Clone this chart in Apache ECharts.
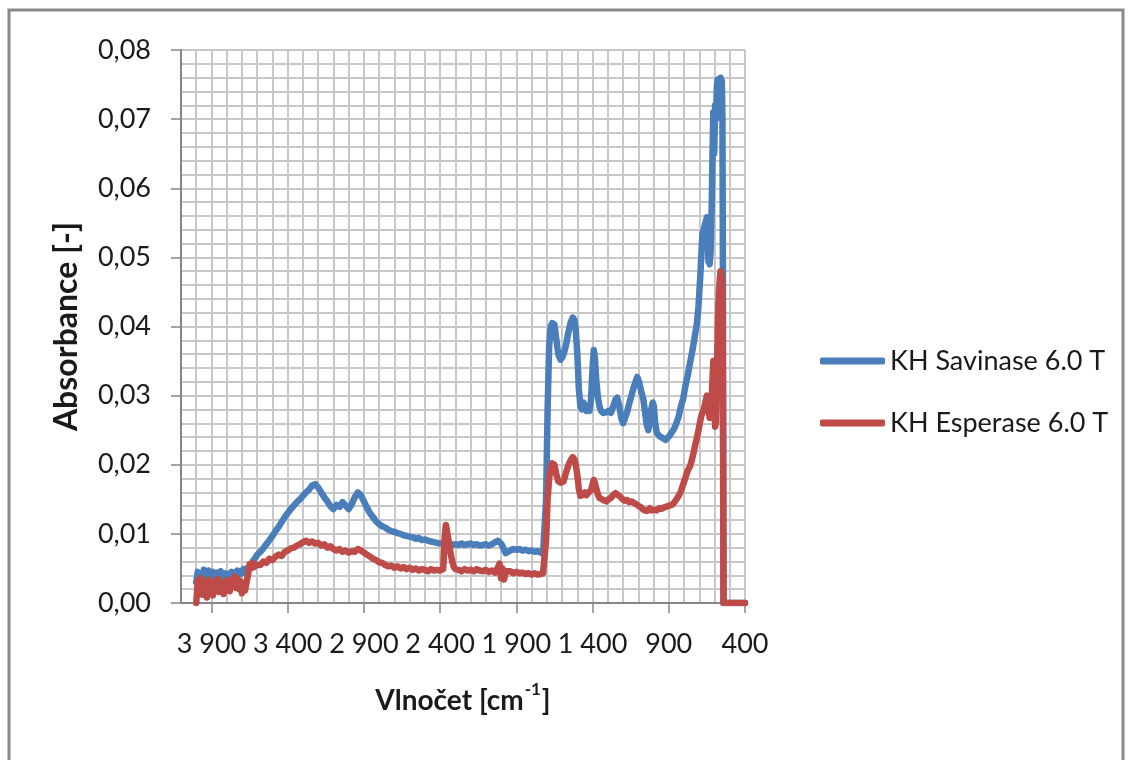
<!DOCTYPE html>
<html>
<head>
<meta charset="utf-8">
<title>FTIR spektra</title>
<script src="https://cdn.jsdelivr.net/npm/echarts@6/dist/echarts.min.js"></script>
<style>
  html, body { margin: 0; padding: 0; background: #ffffff; }
  #chart { width: 1132px; height: 760px; }
</style>
</head>
<body>
<div id="chart"></div>
<script>
// Wavenumber grid shared by both spectra [cm-1], from 4000 down to 400
const wavenumber = [
  4000,3990,3980,3970,3960,3950,3940,3930,3920,3910,
  3900,3890,3880,3870,3860,3850,3840,3830,3820,3810,
  3800,3790,3780,3770,3760,3750,3740,3730,3720,3710,
  3700,3690,3680,3670,3660,3650,3640,3630,3620,3610,
  3600,
  3580,3560,3540,3520,3500,3480,3460,3440,3420,3400,
  3380,3360,3340,3320,3300,3280,3260,3240,3220,3200,
  3180,3160,3140,3120,3100,3080,3060,3040,3020,3000,
  2980,2960,2940,2920,2900,2880,2860,2840,2820,2800,
  2780,2760,2740,2720,2700,2680,2660,2640,2620,2600,
  2580,2560,2540,2520,2500,2480,2460,2440,2420,2400,
  2380,2370,2362,2352,2340,2330,2320,2310,2300,2280,
  2260,2240,2220,2200,2180,2160,2140,2120,2100,2080,
  2060,2040,2020,2010,2000,1990,1980,1970,1960,1940,
  1920,1900,1880,1860,1840,1820,1800,1780,1760,1740,
  1725,
  1715,1705,1695,1685,1675,1665,1650,1640,1625,1610,
  1600,1590,1575,1560,1545,1530,1520,1510,1500,1490,
  1480,1470,1460,1450,1440,1430,1420,1410,1400,1392,
  1385,1375,1365,1355,1345,1330,1310,1295,1280,1265,
  1250,1238,1225,1212,1200,1190,1175,1160,1145,1130,
  1115,1107,1095,1080,1067,1055,1045,1034,1025,1015,
  1005,998,990,980,965,950,935,920,909,895,
  880,865,850,835,820,805,790,775,760,745,
  730,715,705,692,685,679,670,660,650,645,
  640,632,625,618,614,608,602,596,590,585,
  580,575,570,565,560,556,552,548,545,541,
  530,500,450,400
];

// Absorbance, KH Savinase 6.0 T
const savinase = [
  0.0030,0.0045,0.0038,0.0042,0.0033,0.0048,0.0040,0.0036,0.0047,0.0039,
  0.0034,0.0045,0.0041,0.0037,0.0044,0.0035,0.0046,0.0040,0.0034,0.0043,
  0.0039,0.0031,0.0042,0.0045,0.0038,0.0044,0.0040,0.0047,0.0041,0.0046,
  0.0043,0.0049,0.0045,0.0050,0.0048,0.0052,0.0055,0.0060,0.0063,0.0066,
  0.0070,
  0.0074,0.0079,0.0085,0.0091,0.0097,0.0104,0.0110,0.0117,0.0124,0.0130,
  0.0136,0.0141,0.0146,0.0150,0.0155,0.0160,0.0164,0.0170,0.0172,0.0167,
  0.0160,0.0153,0.0147,0.0140,0.0136,0.0142,0.0139,0.0146,0.0141,0.0136,
  0.0143,0.0153,0.0160,0.0156,0.0147,0.0138,0.0130,0.0124,0.0118,0.0114,
  0.0111,0.0109,0.0106,0.0104,0.0103,0.0101,0.0100,0.0098,0.0097,0.0096,
  0.0095,0.0093,0.0094,0.0091,0.0092,0.0090,0.0089,0.0088,0.0087,0.0086,
  0.0087,0.0086,0.0088,0.0087,0.0085,0.0086,0.0084,0.0086,0.0085,0.0084,
  0.0086,0.0084,0.0085,0.0086,0.0084,0.0085,0.0083,0.0084,0.0085,0.0083,
  0.0085,0.0088,0.0090,0.0092,0.0086,0.0082,0.0077,0.0072,0.0070,0.0076,
  0.0078,0.0077,0.0078,0.0076,0.0077,0.0075,0.0076,0.0074,0.0075,0.0073,
  0.0071,
  0.0071,0.0150,0.0280,0.0370,0.0400,0.0405,0.0403,0.0385,0.0360,0.0352,
  0.0355,0.0360,0.0372,0.0390,0.0405,0.0413,0.0410,0.0395,0.0360,0.0310,
  0.0285,0.0280,0.0290,0.0284,0.0278,0.0285,0.0278,0.0295,0.0340,0.0366,
  0.0355,0.0320,0.0298,0.0285,0.0278,0.0275,0.0276,0.0278,0.0275,0.0284,
  0.0294,0.0297,0.0285,0.0268,0.0260,0.0262,0.0275,0.0288,0.0300,0.0312,
  0.0322,0.0327,0.0320,0.0305,0.0295,0.0275,0.0258,0.0250,0.0262,0.0280,
  0.0290,0.0285,0.0262,0.0247,0.0242,0.0240,0.0238,0.0236,0.0237,0.0242,
  0.0247,0.0252,0.0260,0.0270,0.0285,0.0296,0.0315,0.0330,0.0348,0.0365,
  0.0385,0.0405,0.0430,0.0478,0.0510,0.0535,0.0540,0.0550,0.0558,0.0530,
  0.0495,0.0490,0.0510,0.0580,0.0637,0.0710,0.0650,0.0720,0.0700,0.0745,
  0.0757,0.0740,0.0758,0.0750,0.0760,0.0745,0.0755,0.0700,0.0480,0.0000,
  0.0000,0.0000,0.0000,0.0000
];

// Absorbance, KH Esperase 6.0 T
const esperase = [
  0.0000,0.0032,0.0015,0.0036,0.0012,0.0030,0.0022,0.0008,0.0034,0.0018,
  0.0027,0.0011,0.0031,0.0020,0.0035,0.0016,0.0029,0.0024,0.0013,0.0033,
  0.0021,0.0030,0.0017,0.0034,0.0026,0.0038,0.0022,0.0036,0.0020,0.0032,
  0.0014,0.0028,0.0018,0.0030,0.0041,0.0056,0.0050,0.0058,0.0052,0.0055,
  0.0053,
  0.0055,0.0060,0.0058,0.0064,0.0062,0.0067,0.0070,0.0068,0.0074,0.0076,
  0.0079,0.0080,0.0083,0.0085,0.0088,0.0090,0.0087,0.0089,0.0086,0.0087,
  0.0083,0.0085,0.0080,0.0082,0.0078,0.0076,0.0078,0.0074,0.0076,0.0073,
  0.0075,0.0074,0.0078,0.0076,0.0073,0.0070,0.0067,0.0064,0.0062,0.0059,
  0.0058,0.0055,0.0053,0.0054,0.0051,0.0053,0.0050,0.0052,0.0049,0.0051,
  0.0048,0.0050,0.0047,0.0049,0.0048,0.0046,0.0049,0.0047,0.0048,0.0047,
  0.0049,0.0095,0.0113,0.0100,0.0085,0.0070,0.0060,0.0052,0.0049,0.0048,
  0.0046,0.0049,0.0047,0.0048,0.0046,0.0049,0.0047,0.0046,0.0048,0.0045,
  0.0047,0.0044,0.0052,0.0057,0.0036,0.0050,0.0034,0.0046,0.0044,0.0046,
  0.0043,0.0045,0.0043,0.0044,0.0042,0.0043,0.0041,0.0043,0.0041,0.0042,
  0.0043,
  0.0042,0.0090,0.0150,0.0180,0.0195,0.0202,0.0200,0.0188,0.0176,0.0174,
  0.0172,0.0176,0.0188,0.0198,0.0206,0.0211,0.0208,0.0200,0.0185,0.0165,
  0.0155,0.0153,0.0157,0.0160,0.0156,0.0159,0.0157,0.0163,0.0172,0.0178,
  0.0174,0.0165,0.0157,0.0152,0.0150,0.0149,0.0147,0.0150,0.0152,0.0156,
  0.0159,0.0160,0.0155,0.0152,0.0150,0.0148,0.0149,0.0146,0.0147,0.0145,
  0.0143,0.0144,0.0140,0.0138,0.0135,0.0136,0.0133,0.0135,0.0137,0.0134,
  0.0136,0.0135,0.0136,0.0134,0.0137,0.0136,0.0138,0.0139,0.0139,0.0141,
  0.0142,0.0145,0.0150,0.0155,0.0162,0.0172,0.0182,0.0192,0.0198,0.0210,
  0.0225,0.0240,0.0250,0.0265,0.0272,0.0275,0.0280,0.0290,0.0300,0.0295,
  0.0280,0.0268,0.0272,0.0290,0.0320,0.0350,0.0300,0.0255,0.0262,0.0330,
  0.0380,0.0430,0.0455,0.0470,0.0480,0.0478,0.0470,0.0455,0.0300,0.0000,
  0.0000,0.0000,0.0000,0.0000
];

const seriesNames = ['KH Savinase 6.0 T', 'KH Esperase 6.0 T'];
const seriesColors = ['#4a7ebb', '#be4b48'];
const xTickValues = [3900, 3400, 2900, 2400, 1900, 1400, 900, 400];

const FONT = 'Lato';
const TEXT = '#1a1a1a';
const AXIS_GREY = '#868686';
const GRID_GREY = '#c8c8c8';

// "3 900" style with a space as thousands separator
function formatWavenumber(v) {
  if (v >= 1000) {
    return Math.floor(v / 1000) + ' ' + String(v % 1000).padStart(3, '0');
  }
  return String(v);
}

function toPairs(values) {
  return wavenumber.map((w, i) => [w, values[i]]);
}

const chart = echarts.init(document.getElementById('chart'), null, { renderer: 'canvas' });

const option = {
  animation: false,
  backgroundColor: '#ffffff',
  textStyle: { fontFamily: FONT, color: TEXT },
  graphic: [{
    type: 'rect',
    silent: true,
    shape: { x: 9, y: 10, width: 1114, height: 790 },
    style: { fill: 'none', stroke: '#8a8a8a', lineWidth: 3 }
  }],
  grid: { left: 181, right: 387, top: 50, bottom: 157, containLabel: false },
  legend: {
    orient: 'vertical',
    left: 815,
    top: 341,
    icon: 'roundRect',
    itemWidth: 65,
    itemHeight: 7,
    itemGap: 32,
    selectedMode: false,
    textStyle: { fontFamily: FONT, fontSize: 27, color: TEXT, lineHeight: 30 },
    data: seriesNames
  },
  xAxis: [{
    type: 'value',
    inverse: true,
    min: 400,
    max: 4100,
    interval: 500,
    name: '{t|Vlnočet [cm}{s|-1}{t|]}',
    nameLocation: 'middle',
    nameGap: 78,
    nameTextStyle: {
      rich: {
        t: { fontFamily: FONT, fontSize: 28, fontWeight: 'bold', color: TEXT, lineHeight: 34, verticalAlign: 'bottom' },
        s: { fontFamily: FONT, fontSize: 17, fontWeight: 'bold', color: TEXT, lineHeight: 34, verticalAlign: 'top', padding: [0, 1, 0, 1] }
      }
    },
    axisLine: { show: true, lineStyle: { color: AXIS_GREY, width: 2 } },
    axisTick: { show: true, length: 10, lineStyle: { color: AXIS_GREY, width: 1.5 }, customValues: xTickValues },
    axisLabel: {
      customValues: xTickValues,
      formatter: formatWavenumber,
      fontFamily: FONT,
      fontSize: 27,
      color: TEXT,
      margin: 28
    },
    splitLine: { show: false }
  }, {
    // fine vertical grid, every 100 cm-1
    type: 'value',
    inverse: true,
    min: 400,
    max: 4100,
    interval: 100,
    position: 'bottom',
    axisLine: { show: false },
    axisTick: { show: false },
    axisLabel: { show: false },
    splitLine: { show: true, lineStyle: { color: GRID_GREY, width: 2 } }
  }],
  yAxis: {
    type: 'value',
    min: 0,
    max: 0.08,
    interval: 0.01,
    name: 'Absorbance [-]',
    nameLocation: 'middle',
    nameGap: 98,
    nameTextStyle: { fontFamily: FONT, fontSize: 32, fontWeight: 'bold', color: TEXT },
    axisLine: { show: true, lineStyle: { color: AXIS_GREY, width: 2 } },
    axisTick: { show: true, length: 10, lineStyle: { color: AXIS_GREY, width: 1.5 } },
    axisLabel: {
      formatter: v => v.toFixed(2).replace('.', ','),
      fontFamily: FONT,
      fontSize: 27,
      color: TEXT,
      margin: 30
    },
    splitLine: { show: true, lineStyle: { color: GRID_GREY, width: 2 } },
    minorTick: { show: false, splitNumber: 5 },
    minorSplitLine: { show: true, lineStyle: { color: GRID_GREY, width: 2 } }
  },
  series: [{
    name: seriesNames[0],
    type: 'line',
    xAxisIndex: 0,
    data: toPairs(savinase),
    showSymbol: false,
    symbol: 'none',
    color: seriesColors[0],
    lineStyle: { color: seriesColors[0], width: 6.5, join: 'round', cap: 'round' },
    silent: true,
    z: 3
  }, {
    name: seriesNames[1],
    type: 'line',
    xAxisIndex: 0,
    data: toPairs(esperase),
    showSymbol: false,
    symbol: 'none',
    color: seriesColors[1],
    lineStyle: { color: seriesColors[1], width: 6.5, join: 'round', cap: 'round' },
    silent: true,
    z: 4
  }]
};

chart.setOption(option);
</script>
</body>
</html>
